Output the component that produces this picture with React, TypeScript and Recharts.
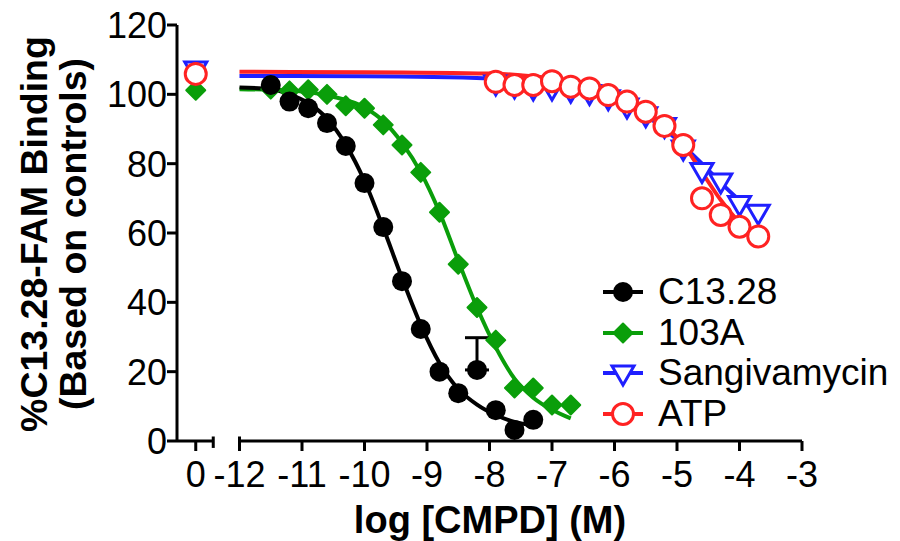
import React from 'react';
import { LineChart, Line, XAxis, YAxis, ReferenceLine, ErrorBar, Legend } from 'recharts';

const FONT = '"Liberation Sans", Arial, Helvetica, sans-serif';

// ---- axis ticks ----
const CONTROL_LABEL = '0';
const CONTROL_POS = -12.7; // position of the "0" (control) on the broken axis
const X_TICKS = [-12, -11, -10, -9, -8, -7, -6, -5, -4, -3];
const Y_TICKS = [0, 20, 40, 60, 80, 100, 120];

// ---- series names / colours ----
const SERIES = ['C13.28', '103A', 'Sangivamycin', 'ATP'];
const COLORS = ['#000000', '#0a9e0a', '#1f1fff', '#ff2222'];

// ---- measured points ----
const LOG_CONC_C1328 = [-11.5, -11.2, -10.9, -10.6, -10.3, -10.0, -9.7, -9.4, -9.1, -8.8, -8.5, -8.2, -7.9, -7.6, -7.3];
const C1328 = [102.7, 97.9, 96.0, 91.7, 85.1, 74.4, 61.7, 46.1, 32.3, 20.0, 13.8, 20.5, 8.9, 3.2, 6.1];
const C1328_ERR = [null, null, null, null, null, null, null, null, null, null, null, [0, 9.3], null, null, null];

const LOG_CONC_103A = [-11.5, -11.2, -10.9, -10.6, -10.3, -10.0, -9.7, -9.4, -9.1, -8.8, -8.5, -8.2, -7.9, -7.6, -7.3, -7.0, -6.7];
const A103 = [101.5, 101.0, 101.3, 100.0, 96.7, 96.0, 91.2, 85.4, 77.5, 66.0, 51.0, 38.5, 29.1, 15.3, 15.3, 10.4, 10.4];

const LOG_CONC_SANG = [-7.9, -7.6, -7.3, -7.0, -6.7, -6.4, -6.1, -5.8, -5.5, -5.2, -4.9, -4.6, -4.3, -4.0, -3.7];
const SANG = [103.3, 102.4, 101.8, 101.8, 101.2, 100.5, 99.0, 96.6, 94.1, 91.0, 84.5, 78.0, 75.0, 68.5, 66.0];

const LOG_CONC_ATP = [-7.9, -7.6, -7.3, -7.0, -6.7, -6.4, -6.1, -5.8, -5.5, -5.2, -4.9, -4.6, -4.3, -4.0, -3.7];
const ATP = [103.6, 102.7, 102.7, 103.8, 102.2, 101.7, 99.8, 97.9, 95.0, 90.9, 85.4, 70.0, 65.2, 61.8, 59.0];

// control (x = 0) values
const CONTROL_103A = 101.2;
const CONTROL_SANG = 107.3;
const CONTROL_ATP = 105.9;

// ---- fitted curves ----
const FIT_X_C1328 = [-12, -11.5, -11.2, -10.9, -10.6, -10.3, -10.0, -9.7, -9.4, -9.1, -8.8, -8.5, -8.2, -7.9, -7.6, -7.3];
const FIT_C1328 = [102, 101.5, 100, 97.5, 93, 85.5, 75, 61.5, 47, 33.5, 22.5, 15, 10.5, 7.5, 5.5, 4.5];

const FIT_X_103A = [-12, -11.5, -11, -10.5, -10.0, -9.7, -9.4, -9.1, -8.8, -8.5, -8.2, -7.9, -7.6, -7.3, -7.0, -6.7];
const FIT_103A = [101.5, 101.3, 100.8, 99.3, 96.2, 92.3, 86, 77.5, 66, 52, 38.5, 27, 18, 12.5, 9, 6.5];

const FIT_X_SANG = [-12, -10, -8, -7.5, -7, -6.5, -6.1, -5.8, -5.5, -5.2, -4.9, -4.6, -4.3, -4.0, -3.6];
const FIT_SANG = [105.3, 105.2, 104.6, 104, 103, 101.2, 99.2, 96.8, 93.8, 90, 85.2, 80, 74.5, 69.5, 65];

const FIT_X_ATP = [-12, -10, -8, -7.5, -7, -6.5, -6.1, -5.8, -5.5, -5.2, -4.9, -4.6, -4.3, -4.0, -3.7];
const FIT_ATP = [106.5, 106.4, 106, 105.5, 104.6, 102.8, 100.5, 98, 95, 91, 85.5, 77.5, 69.5, 63, 58.5];

// ---- build tables ----
const zip = (xs: number[], ys: number[]) => xs.map((x, i) => ({ x, y: ys[i] }));

const c1328Points = LOG_CONC_C1328.map((x, i) => ({ x, y: C1328[i], err: C1328_ERR[i] }));
const a103Points = [{ x: CONTROL_POS, y: CONTROL_103A }, ...zip(LOG_CONC_103A, A103)];
const sangPoints = [{ x: CONTROL_POS, y: CONTROL_SANG }, ...zip(LOG_CONC_SANG, SANG)];
const atpPoints = [{ x: CONTROL_POS, y: CONTROL_ATP }, ...zip(LOG_CONC_ATP, ATP)];

const c1328Fit = zip(FIT_X_C1328, FIT_C1328);
const a103Fit = zip(FIT_X_103A, FIT_103A);
const sangFit = zip(FIT_X_SANG, FIT_SANG);
const atpFit = zip(FIT_X_ATP, FIT_ATP);

// ---- marker shapes ----
const Marker = ({ kind, cx, cy }: { kind: number; cx: number; cy: number }) => {
  if (kind === 0) return <circle cx={cx} cy={cy} r={10} fill={COLORS[0]} />;
  if (kind === 1)
    return (
      <path
        d={`M${cx},${cy - 9.5}L${cx + 9.5},${cy}L${cx},${cy + 9.5}L${cx - 9.5},${cy}Z`}
        fill={COLORS[1]}
        stroke={COLORS[1]}
        strokeWidth={2}
        strokeLinejoin="round"
      />
    );
  if (kind === 2)
    return (
      <path
        d={`M${cx - 11},${cy - 7}L${cx + 11},${cy - 7}L${cx},${cy + 12}Z`}
        fill="#ffffff"
        stroke={COLORS[2]}
        strokeWidth={3}
      />
    );
  return <circle cx={cx} cy={cy} r={10.5} fill="#ffffff" stroke={COLORS[3]} strokeWidth={3} />;
};

const dotFor = (kind: number) => (props: any) => {
  if (props.cx == null || props.cy == null) return <g key={`e-${kind}-${props.index}`} />;
  return (
    <g key={`m-${kind}-${props.index}`}>
      <Marker kind={kind} cx={props.cx} cy={props.cy} />
    </g>
  );
};

// ---- ticks & labels ----
const XTick = (props: any) => {
  const { x, y, payload } = props;
  const v = payload.value;
  const label = v === CONTROL_POS ? CONTROL_LABEL : String(v);
  return (
    <text x={x} y={y} dy={34} textAnchor="middle" fontSize={36} fontFamily={FONT} fill="#000">
      {label}
    </text>
  );
};

const YTick = (props: any) => {
  const { x, y, payload } = props;
  return (
    <text x={x + 2} y={y} dy={13} textAnchor="end" fontSize={36} fontFamily={FONT} fill="#000">
      {payload.value}
    </text>
  );
};

const YLabel = () => (
  <g>
    <text
      transform="translate(47,234) rotate(-90)"
      textAnchor="middle"
      fontSize={37.5}
      fontWeight="bold"
      fontFamily={FONT}
      fill="#000"
    >
      %C13.28-FAM Binding
    </text>
    <text
      transform="translate(86,234) rotate(-90)"
      textAnchor="middle"
      fontSize={37.5}
      fontWeight="bold"
      fontFamily={FONT}
      fill="#000"
    >
      (Based on controls)
    </text>
  </g>
);

const XLabel = () => (
  <text x={490} y={533} textAnchor="middle" fontSize={38} fontWeight="bold" fontFamily={FONT} fill="#000">
    log [CMPD] (M)
  </text>
);

const LegendContent = () => (
  <div style={{ fontFamily: FONT, fontSize: 37, color: '#000' }}>
    {SERIES.map((name, i) => (
      <div key={name} style={{ display: 'flex', alignItems: 'center', height: 40.5, lineHeight: '40.5px', whiteSpace: 'nowrap' }}>
        <svg width={58} height={40} style={{ display: 'block', flex: 'none' }}>
          <line x1={3} y1={20} x2={43} y2={20} stroke={COLORS[i]} strokeWidth={4} />
          <Marker kind={i} cx={23} cy={20} />
        </svg>
        <span>{name}</span>
      </div>
    ))}
  </div>
);

export default function App() {
  return (
    <div style={{ position: 'absolute', left: 0, top: 0, width: 900, height: 541, background: '#fff' }}>
      <LineChart width={900} height={541} margin={{ top: 25, right: 98, bottom: 0, left: 0 }}>
        <XAxis
          dataKey="x"
          type="number"
          domain={[-13, -3]}
          allowDataOverflow
          ticks={[CONTROL_POS, ...X_TICKS]}
          interval={0}
          height={100}
          axisLine={false}
          tickSize={10}
          tickLine={{ stroke: '#000', strokeWidth: 3 }}
          tick={<XTick />}
          label={{ content: () => <XLabel /> }}
        />
        <YAxis
          type="number"
          domain={[0, 120]}
          ticks={Y_TICKS}
          interval={0}
          width={177}
          tickSize={10}
          axisLine={{ stroke: '#000', strokeWidth: 3 }}
          tickLine={{ stroke: '#000', strokeWidth: 3 }}
          tick={<YTick />}
          label={{ content: () => <YLabel /> }}
        />

        {/* broken x axis */}
        <ReferenceLine segment={[{ x: -13, y: 0 }, { x: -12.42, y: 0 }]} stroke="#000" strokeWidth={3} ifOverflow="visible" />
        <ReferenceLine segment={[{ x: -12, y: 0 }, { x: -3, y: 0 }]} stroke="#000" strokeWidth={3} ifOverflow="visible" />
        <ReferenceLine segment={[{ x: -12.42, y: 1.3 }, { x: -12.42, y: -2 }]} stroke="#000" strokeWidth={3} ifOverflow="visible" />
        <ReferenceLine segment={[{ x: -12, y: 1.3 }, { x: -12, y: -2 }]} stroke="#000" strokeWidth={3} ifOverflow="visible" />

        {/* 103A */}
        <Line data={a103Fit} dataKey="y" type="monotone" stroke={COLORS[1]} strokeWidth={4} dot={false} activeDot={false} isAnimationActive={false} legendType="none" />
        <Line data={a103Points} dataKey="y" stroke="none" dot={dotFor(1)} activeDot={false} isAnimationActive={false} legendType="none" />

        {/* C13.28 */}
        <Line data={c1328Fit} dataKey="y" type="monotone" stroke={COLORS[0]} strokeWidth={4} dot={false} activeDot={false} isAnimationActive={false} legendType="none" />
        <Line data={c1328Points} dataKey="y" stroke="none" dot={dotFor(0)} activeDot={false} isAnimationActive={false} legendType="none">
          <ErrorBar dataKey="err" direction="y" width={12} stroke="#000" strokeWidth={3} />
        </Line>

        {/* Sangivamycin */}
        <Line data={sangFit} dataKey="y" type="monotone" stroke={COLORS[2]} strokeWidth={4} dot={false} activeDot={false} isAnimationActive={false} legendType="none" />
        <Line data={sangPoints} dataKey="y" stroke="none" dot={dotFor(2)} activeDot={false} isAnimationActive={false} legendType="none" />

        {/* ATP */}
        <Line data={atpFit} dataKey="y" type="monotone" stroke={COLORS[3]} strokeWidth={4} dot={false} activeDot={false} isAnimationActive={false} legendType="none" />
        <Line data={atpPoints} dataKey="y" stroke="none" dot={dotFor(3)} activeDot={false} isAnimationActive={false} legendType="none" />

        <Legend
          layout="vertical"
          align="center"
          verticalAlign="middle"
          content={() => <LegendContent />}
          wrapperStyle={{ left: 600, top: 272, width: 300, height: 170 }}
        />
      </LineChart>
    </div>
  );
}
